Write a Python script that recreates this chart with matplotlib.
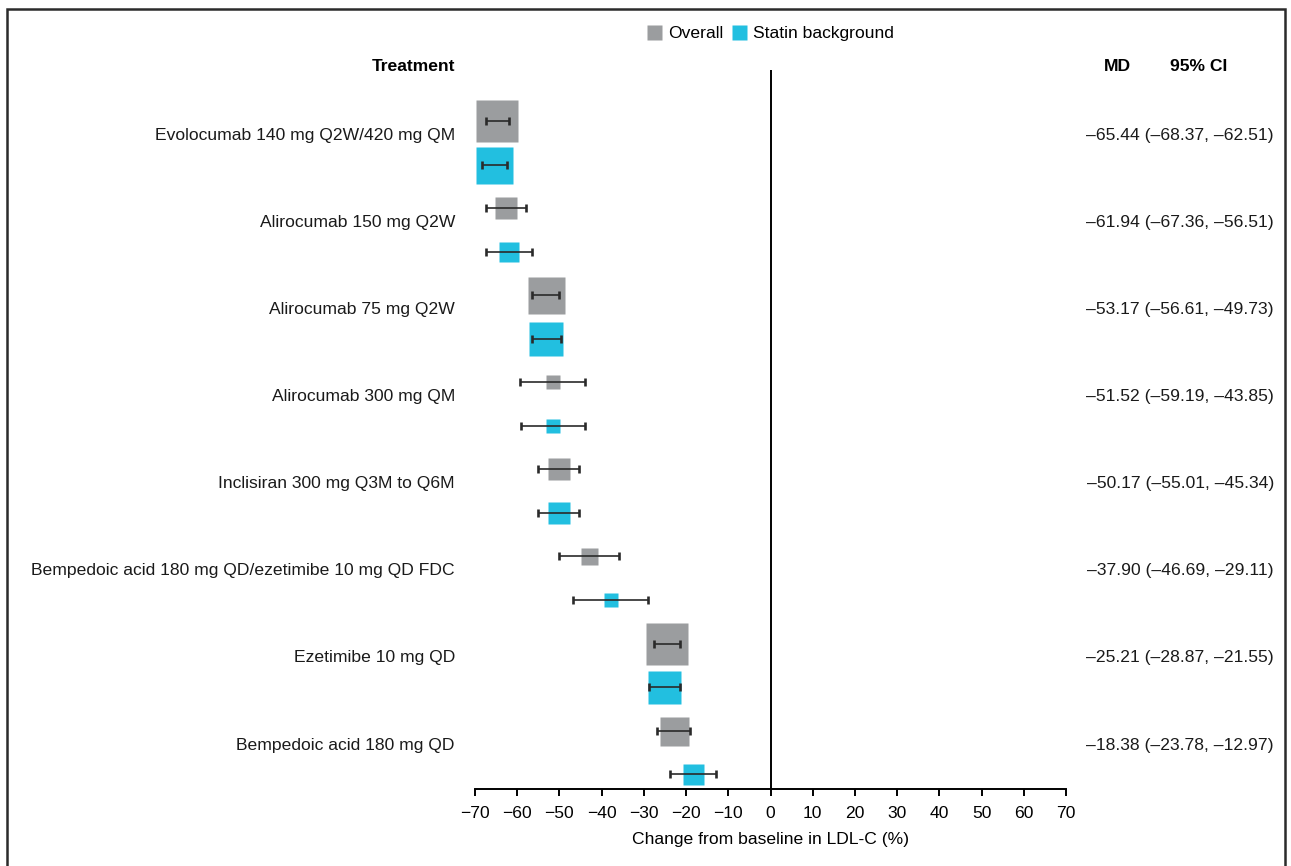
import matplotlib
matplotlib.use("Agg")
import matplotlib.pyplot as plt
import matplotlib.transforms as mtransforms
from matplotlib.lines import Line2D
from matplotlib.patches import Rectangle
import numpy as np

plt.rcParams['font.family'] = ['Liberation Sans', 'DejaVu Sans']

# ---------------- data ----------------
treatments = [
    "Evolocumab 140 mg Q2W/420 mg QM",
    "Alirocumab 150 mg Q2W",
    "Alirocumab 75 mg Q2W",
    "Alirocumab 300 mg QM",
    "Inclisiran 300 mg Q3M to Q6M",
    "Bempedoic acid 180 mg QD/ezetimibe 10 mg QD FDC",
    "Ezetimibe 10 mg QD",
    "Bempedoic acid 180 mg QD",
]
overall_md = [-64.7, -62.7, -53.2, -51.6, -50.2, -43.0, -24.5, -22.9]
overall_lo = [-67.3, -67.5, -56.5, -59.3, -55.0, -50.0, -27.5, -26.8]
overall_hi = [-62.0, -57.9, -50.0, -44.0, -45.4, -36.0, -21.5, -19.0]
statin_md = [-65.44, -61.94, -53.17, -51.52, -50.17, -37.90, -25.21, -18.38]
statin_lo = [-68.37, -67.36, -56.61, -59.19, -55.01, -46.69, -28.87, -23.78]
statin_hi = [-62.51, -56.51, -49.73, -43.85, -45.34, -29.11, -21.55, -12.97]
# relative study weights (drawn as square size)
overall_weight = [42, 23, 37, 14.5, 23, 17, 42, 29]
statin_weight = [37, 20, 34, 14.5, 23, 14, 33, 21]
x_ticks = list(range(-70, 71, 10))
series_names = ["Overall", "Statin background"]

# ---------------- style ----------------
GRAY = "#9b9d9f"
CYAN = "#22bfe0"
W, H = 1291, 866
DPI = 100
PX2PT = 72.0 / DPI
FS = 12.6

fig = plt.figure(figsize=(W / DPI, H / DPI), dpi=DPI)
ax_left, ax_right = 475 / W, 1066 / W
ax_top, ax_bot = 1 - 70 / H, 1 - 789 / H
ax = fig.add_axes([ax_left, ax_bot, ax_right - ax_left, ax_top - ax_bot])

n = len(treatments)
y_over = np.arange(n) * 2.0
y_stat = y_over + 1.0

for ys, md, lo, hi, wts, col in [
    (y_over, overall_md, overall_lo, overall_hi, overall_weight, GRAY),
    (y_stat, statin_md, statin_lo, statin_hi, statin_weight, CYAN),
]:
    md = np.array(md); lo = np.array(lo); hi = np.array(hi)
    for y, m, w in zip(ys, md, wts):
        ax.plot([m], [y], marker='s', ms=w * PX2PT, color=col, mec='none',
                ls='none', zorder=2, clip_on=False)
    ax.errorbar(md, ys, xerr=[md - lo, hi - md], fmt='none', ecolor='#2a2a2a',
                elinewidth=1.2, capsize=2.9, capthick=1.9, zorder=3, clip_on=False)

ax.axvline(0, color='black', lw=1.4, zorder=1)

ax.set_xlim(-70, 70)
ax.set_ylim(15.34, -1.17)
ax.set_xticks(x_ticks)
ax.set_xticklabels([f"{t}".replace('-', '\u2212') for t in x_ticks], fontsize=FS)
ax.set_yticks([])
for s in ['top', 'right', 'left']:
    ax.spines[s].set_visible(False)
ax.spines['bottom'].set_linewidth(1.4)
ax.tick_params(axis='x', direction='out', length=5, width=1.4, pad=7.5, colors='black')
ax.set_xlabel("Change from baseline in LDL-C (%)", fontsize=FS, labelpad=8)

trans = mtransforms.blended_transform_factory(fig.transFigure, ax.transData)
label_x = 455 / W
ci_x = 1274 / W
for i, name in enumerate(treatments):
    yy = y_over[i] + 0.33
    ax.text(label_x, yy, name, transform=trans, ha='right', va='center',
            fontsize=FS, color='#1a1a1a', clip_on=False)
    txt = (f"{statin_md[i]:.2f} ({statin_lo[i]:.2f}, {statin_hi[i]:.2f})"
           .replace('-', '\u2013'))
    ax.text(ci_x, yy, txt, transform=trans, ha='right', va='center',
            fontsize=FS, color='#1a1a1a', clip_on=False)

hy = -1.247
ax.text(label_x, hy, "Treatment", transform=trans, ha='right', va='center',
        fontsize=FS, fontweight='bold', clip_on=False)
ax.text(1117.5 / W, hy, "MD", transform=trans, ha='center', va='center',
        fontsize=FS, fontweight='bold', clip_on=False)
ax.text(1198.7 / W, hy, "95% CI", transform=trans, ha='center', va='center',
        fontsize=FS, fontweight='bold', clip_on=False)

handles = [Line2D([], [], marker='s', color=GRAY, ls='none', ms=15 * PX2PT, mec='none'),
           Line2D([], [], marker='s', color=CYAN, ls='none', ms=15 * PX2PT, mec='none')]
fig.legend(handles, series_names, loc='center', bbox_to_anchor=(770 / W, 1 - 33 / H),
           ncol=2, frameon=False, fontsize=FS, handletextpad=0.3, columnspacing=0.4,
           handlelength=1.0, borderpad=0)

fig.add_artist(Rectangle((7 / W, -0.05), (1285 - 7) / W, 1.05 - 9 / H,
                         transform=fig.transFigure, fill=False, lw=1.8, ec='#2b2b2b'))

fig.savefig("out.png", dpi=DPI)
